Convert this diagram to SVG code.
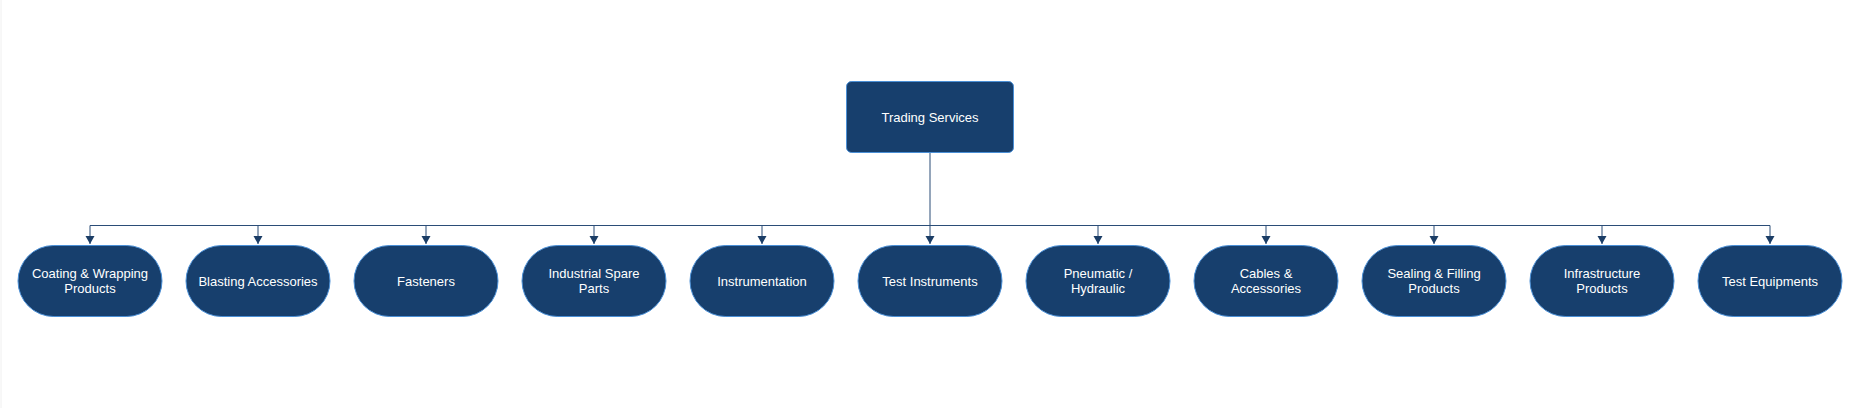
<svg xmlns="http://www.w3.org/2000/svg" width="1850" height="408" viewBox="0 0 1850 408">
<defs>
<style>
.node{fill:#173f6d;stroke:#4a8fd6;stroke-width:1}
.lbl{font-family:"Liberation Sans",Arial,sans-serif;font-size:13px;fill:#ffffff;text-anchor:middle}
.conn{fill:none;stroke:#2b4d77;stroke-width:1}
</style>
<marker id="arr" markerWidth="10" markerHeight="10" refX="8" refY="4.5" orient="auto" markerUnits="userSpaceOnUse">
<path d="M0,0 L8,4.5 L0,9 Z" fill="#1b3d66"/>
</marker>
</defs>
<rect x="0" y="0" width="1850" height="408" fill="#ffffff"/>
<line x1="1" y1="0" x2="1" y2="408" stroke="#f0f0f0" stroke-width="1"/>
<g id="connectors">
<path class="conn" d="M930,153 V225.5" />
<path class="conn" d="M90,225.5 H1770" />
<path class="conn" marker-end="url(#arr)" d="M90,225.5 V244"/>
<path class="conn" marker-end="url(#arr)" d="M258,225.5 V244"/>
<path class="conn" marker-end="url(#arr)" d="M426,225.5 V244"/>
<path class="conn" marker-end="url(#arr)" d="M594,225.5 V244"/>
<path class="conn" marker-end="url(#arr)" d="M762,225.5 V244"/>
<path class="conn" marker-end="url(#arr)" d="M930,225.5 V244"/>
<path class="conn" marker-end="url(#arr)" d="M1098,225.5 V244"/>
<path class="conn" marker-end="url(#arr)" d="M1266,225.5 V244"/>
<path class="conn" marker-end="url(#arr)" d="M1434,225.5 V244"/>
<path class="conn" marker-end="url(#arr)" d="M1602,225.5 V244"/>
<path class="conn" marker-end="url(#arr)" d="M1770,225.5 V244"/>
</g>
<g id="root">
<rect class="node" x="846.5" y="81.5" width="167" height="71" rx="5"/>
<text class="lbl" x="930" y="122">Trading Services</text>
</g>
<g id="n1"><rect class="node" x="18" y="245.5" width="144" height="71" rx="35.5"/><text class="lbl" x="90" y="278">Coating &amp; Wrapping</text><text class="lbl" x="90" y="293">Products</text></g>
<g id="n2"><rect class="node" x="186" y="245.5" width="144" height="71" rx="35.5"/><text class="lbl" x="258" y="286">Blasting Accessories</text></g>
<g id="n3"><rect class="node" x="354" y="245.5" width="144" height="71" rx="35.5"/><text class="lbl" x="426" y="286">Fasteners</text></g>
<g id="n4"><rect class="node" x="522" y="245.5" width="144" height="71" rx="35.5"/><text class="lbl" x="594" y="278">Industrial Spare</text><text class="lbl" x="594" y="293">Parts</text></g>
<g id="n5"><rect class="node" x="690" y="245.5" width="144" height="71" rx="35.5"/><text class="lbl" x="762" y="286">Instrumentation</text></g>
<g id="n6"><rect class="node" x="858" y="245.5" width="144" height="71" rx="35.5"/><text class="lbl" x="930" y="286">Test Instruments</text></g>
<g id="n7"><rect class="node" x="1026" y="245.5" width="144" height="71" rx="35.5"/><text class="lbl" x="1098" y="278">Pneumatic /</text><text class="lbl" x="1098" y="293">Hydraulic</text></g>
<g id="n8"><rect class="node" x="1194" y="245.5" width="144" height="71" rx="35.5"/><text class="lbl" x="1266" y="278">Cables &amp;</text><text class="lbl" x="1266" y="293">Accessories</text></g>
<g id="n9"><rect class="node" x="1362" y="245.5" width="144" height="71" rx="35.5"/><text class="lbl" x="1434" y="278">Sealing &amp; Filling</text><text class="lbl" x="1434" y="293">Products</text></g>
<g id="n10"><rect class="node" x="1530" y="245.5" width="144" height="71" rx="35.5"/><text class="lbl" x="1602" y="278">Infrastructure</text><text class="lbl" x="1602" y="293">Products</text></g>
<g id="n11"><rect class="node" x="1698" y="245.5" width="144" height="71" rx="35.5"/><text class="lbl" x="1770" y="286">Test Equipments</text></g>
</svg>
